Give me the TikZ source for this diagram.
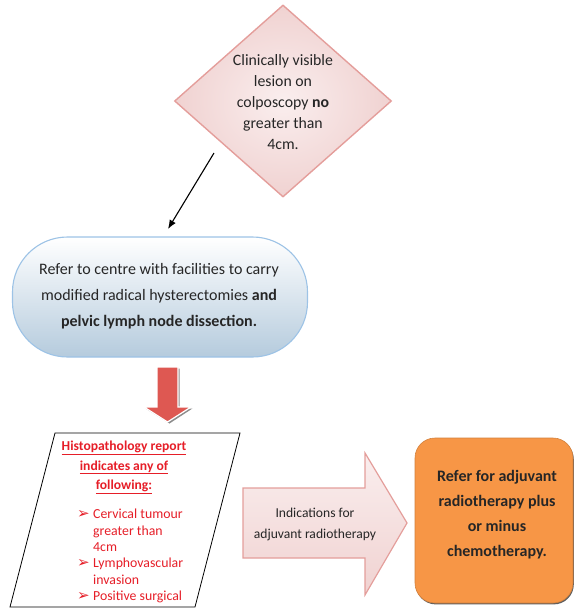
\documentclass[tikz,border=0pt]{standalone}
\usepackage{fontspec}
\setmainfont{Carlito}
\newfontfamily\symfont{DejaVu Sans}
\usetikzlibrary{shapes.geometric,arrows.meta,shadows}

\definecolor{pinkedge}{RGB}{228,158,155}
\definecolor{pinklight}{RGB}{250,238,238}
\definecolor{pinkdark}{RGB}{240,210,209}
\definecolor{blueedge}{RGB}{157,195,230}
\definecolor{bluefill}{RGB}{181,203,221}
\definecolor{bluemid}{RGB}{226,235,242}
\definecolor{downred}{RGB}{222,88,82}
\definecolor{reporttext}{RGB}{230,30,40}
\definecolor{orangebox}{RGB}{247,150,70}
\definecolor{darktext}{RGB}{38,38,38}

\tikzset{
  decision/.style={diamond, minimum width=217pt, minimum height=192pt, inner sep=0pt,
    draw=pinkedge, line width=1.4pt, inner color=pinklight, outer color=pinkdark},
  pill/.style={rectangle, rounded corners=55pt, minimum width=295pt, minimum height=120pt,
    draw=blueedge, line width=1.1pt, top color=white, middle color=bluemid, bottom color=bluefill},
  outcome/.style={rectangle, rounded corners=20pt, minimum width=158pt, minimum height=165pt,
    fill=orangebox, draw=orangebox!85!black, line width=0.6pt,
    drop shadow={shadow xshift=0.8pt, shadow yshift=-1.4pt, fill=black!70, opacity=0.9}},
  plain/.style={inner sep=0pt, text=darktext, align=center},
  flow/.style={-{Latex[length=9pt,width=7pt]}, line width=1.1pt, black},
  blockarrow/.style={draw=pinkedge, line width=1.2pt, top color=pinklight, bottom color=pinkdark},
}
\newcommand{\itemmark}{\makebox[16pt][l]{\raisebox{0.5pt}{\symfont\fontsize{15}{15}\selectfont ➢}}}

\begin{document}
\begin{tikzpicture}[x=1pt,y=1pt]
\useasboundingbox (0,0) rectangle (576,-608);

% decision diamond
\node[decision] (lesion) at (283,-101) {};
\node[plain, font=\fontsize{15.8}{21}\selectfont] (lesiontext) at (283,-102)
  {Clinically visible\\ lesion on\\ colposcopy \textbf{no}\\ greater than\\ 4cm.};

% connector from the diamond to the referral box
\coordinate (from) at (214,-153);
\coordinate (to) at (168,-229);
\draw[flow] (from) -- (to);

% referral box
\node[pill] (refer) at (160,-297) {};
\node[plain, font=\fontsize{16}{26}\selectfont] (refertext) at (159,-296)
  {Refer to centre with facilities to carry\\
   modified radical hysterectomies \textbf{and}\\
   \textbf{pelvic lymph node dissection.}};

% red down arrow
\fill[black!45] (158.5,-368.5) -- (179.5,-368.5) -- (179.5,-408.5) -- (192.5,-408.5)
  -- (169.5,-423.5) -- (145.5,-408.5) -- (158.5,-408.5) -- cycle;
\path[fill=downred, draw=white, line width=1.2pt] (157,-367) -- (178,-367) -- (178,-407)
  -- (191,-407) -- (167.5,-422) -- (144,-407) -- (157,-407) -- cycle;

% histopathology parallelogram
\draw[line width=0.8pt, fill=white] (55,-433) -- (240,-433) -- (195,-607) -- (10,-607) -- cycle;
\node[inner sep=0pt, align=center, text=reporttext, font=\fontsize{13.6}{19.5}\selectfont\bfseries]
  (reporthead) at (124,-467.5)
  {\underline{Histopathology report}\\ \underline{indicates any of}\\ \underline{following:}};
\node[inner sep=0pt, align=left, anchor=west, text=reporttext, font=\fontsize{13.8}{16.4}\selectfont]
  (reportlist) at (77,-556)
  {\itemmark Cervical tumour\\
   \hspace*{16pt}greater than\\
   \hspace*{16pt}4cm\\
   \itemmark Lymphovascular\\
   \hspace*{16pt}invasion\\
   \itemmark Positive surgical};

% indications arrow
\path[blockarrow] (243,-488) -- (365,-488) -- (365,-453) -- (407,-523) -- (365,-595)
  -- (365,-558) -- (243,-558) -- cycle;
\node[plain, font=\fontsize{13.6}{21}\selectfont] (indications) at (315,-524.5)
  {Indications for\\ adjuvant radiotherapy};

% outcome box
\node[outcome] (adjuvant) at (494,-520.5) {};
\node[plain, font=\fontsize{16}{25}\selectfont\bfseries] (adjuvanttext) at (497,-514.5)
  {Refer for adjuvant\\ radiotherapy plus\\ or minus\\ chemotherapy.};
\end{tikzpicture}
\end{document}
